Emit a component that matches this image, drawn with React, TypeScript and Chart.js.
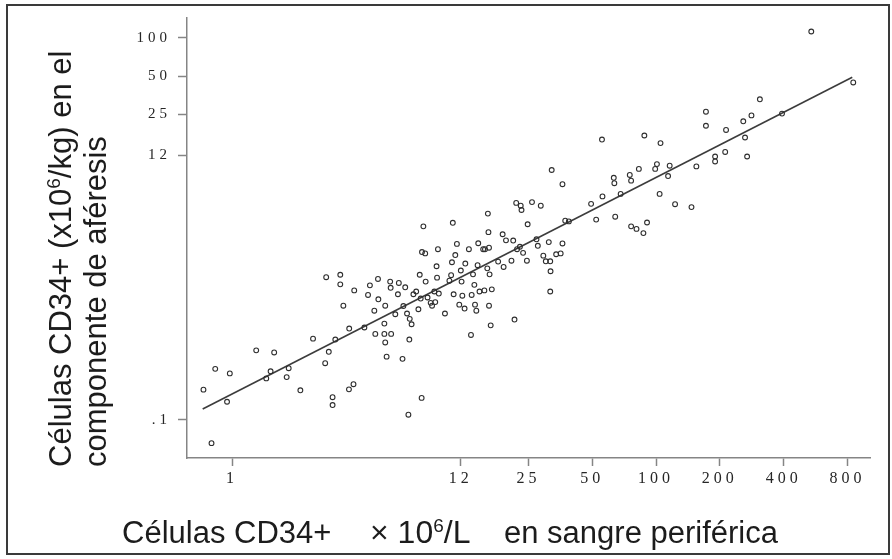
import { useEffect, useRef } from 'react';
import { Chart, registerables } from 'chart.js';

Chart.register(...registerables);

// CD34+ cells in peripheral blood (x10^6/L)
const bloodCD34 = [
  0.733, 0.80, 0.833, 0.947, 0.976, 1.30, 1.45, 1.52, 1.58, 1.81,
  1.85, 2.10, 2.41, 2.75, 2.78, 2.86, 2.98, 2.98, 3.07, 3.24,
  3.24, 3.35, 3.57, 3.56, 3.74, 3.77, 4.21, 4.38, 4.47, 4.69,
  4.74, 4.88, 4.90, 5.23, 5.28, 5.36, 5.23, 5.28, 5.57, 5.60,
  5.63, 5.89, 6.06, 6.12, 6.37, 6.43, 6.56, 6.69, 6.79, 6.86,
  6.89, 7.03, 7.17, 7.39, 7.57, 7.68, 7.76, 7.84, 7.87, 7.99,
  8.15, 8.19, 8.36, 8.65, 8.78, 9.00, 9.09, 9.22, 9.27, 9.36,
  9.45, 10.1, 10.6, 10.8, 10.9, 11.0, 11.1, 11.3, 11.5, 11.8,
  12.0, 12.1, 12.2, 12.5, 12.6, 13.1, 13.4, 13.5, 13.7, 13.9,
  14.0, 14.2, 14.4, 14.5, 14.7, 15.3, 15.5, 15.6, 16.0, 16.1,
  16.2, 16.3, 16.3, 16.4, 16.6, 16.8, 18.0, 18.9, 19.1, 19.6,
  20.8, 21.2, 21.5, 21.9, 22.1, 22.8, 23.0, 23.2, 23.6, 24.6,
  24.8, 26.0, 27.3, 27.7, 28.6, 29.4, 30.2, 31.2, 31.7, 31.7,
  31.8, 32.2, 33.8, 35.5, 36.2, 36.2, 37.3, 38.8, 49.4, 52.2,
  55.6, 55.9, 63.2, 63.6, 64.2, 68.1, 75.2, 76.3, 76.3, 80.9,
  83.0, 87.2, 88.1, 90.7, 99.1, 101, 104, 105, 114, 116,
  123, 147, 155, 172, 172, 190, 190, 212, 214, 258,
  263, 269, 282, 309, 393, 540, 852,
];

// CD34+ cells in the apheresis product (x10^6/kg)
const apheresisCD34 = [
  0.173, 0.0658, 0.252, 0.139, 0.232, 0.352, 0.212, 0.241, 0.339, 0.217,
  0.255, 0.171, 0.435, 0.279, 1.32, 0.343, 0.151, 0.131, 0.428, 1.38,
  1.16, 0.789, 0.522, 0.174, 0.191, 1.04, 0.532, 0.958, 1.14, 0.721,
  0.474, 1.28, 0.886, 0.474, 0.406, 0.314, 0.571, 0.789, 1.22, 1.09,
  0.474, 0.676, 0.970, 1.19, 0.302, 0.784, 1.10, 0.685, 0.110, 0.428,
  0.622, 0.564, 0.970, 1.02, 0.740, 1.38, 0.898, 0.149, 2.08, 3.31,
  2.03, 1.22, 0.915, 0.831, 0.789, 1.02, 0.842, 1.61, 1.31, 2.19,
  0.983, 0.685, 1.24, 1.37, 1.73, 3.53, 0.970, 1.97, 2.41, 0.804,
  1.49, 1.22, 0.945, 0.749, 1.69, 2.19, 0.465, 0.958, 1.39, 1.15,
  0.804, 0.721, 1.64, 2.44, 1.02, 2.19, 1.04, 2.19, 1.55, 4.17,
  2.98, 2.25, 0.789, 1.39, 0.553, 1.06, 1.75, 2.87, 1.59, 2.57,
  1.78, 2.56, 0.614, 5.06, 2.19, 2.29, 4.81, 4.45, 2.05, 1.78,
  3.44, 5.13, 2.62, 2.33, 4.81, 1.95, 1.76, 2.49, 1.76, 1.02,
  1.47, 9.17, 2.00, 2.03, 2.43, 7.09, 3.67, 3.62, 4.97, 3.74,
  15.9, 5.69, 7.96, 7.22, 3.94, 5.95, 8.38, 7.56, 3.31, 3.16,
  9.35, 2.93, 17.1, 3.55, 9.35, 10.2, 5.95, 14.9, 8.22, 9.91,
  4.94, 4.69, 9.78, 26.3, 20.4, 11.7, 10.7, 12.7, 18.9, 22.1,
  16.5, 11.7, 24.6, 32.9, 25.4, 112, 44.6,
];

// Regression line end points
const fitX = [0.727, 843];
const fitY = [0.122, 49];

const xTickValues = [1, 12, 25, 50, 100, 200, 400, 800];
const xTickLabels = ['1', '12', '25', '50', '100', '200', '400', '800'];
const yTickValues = [0.1, 12, 25, 50, 100];
const yTickLabels = ['.1', '12', '25', '50', '100'];

const xRange = [0.613, 1022];
const yRange = [0.0503, 143];

const letterSpacingPlugin = {
  id: 'tickLetterSpacing',
  beforeDraw(chart: any) {
    chart.ctx.letterSpacing = '4px';
  },
  afterDraw(chart: any) {
    chart.ctx.letterSpacing = '0px';
  },
};

const sansFont = '"Liberation Sans", Arial, sans-serif';
const serifFont = '"Liberation Serif", "DejaVu Serif", serif';
const supStyle: any = { fontSize: '19px', verticalAlign: '11px', lineHeight: 0 };

export default function App() {
  const canvasRef = useRef<HTMLCanvasElement | null>(null);

  useEffect(() => {
    const canvas = canvasRef.current;
    if (!canvas) return;
    const points = bloodCD34.map((x, i) => ({ x, y: apheresisCD34[i] }));
    const fitLine = fitX.map((x, i) => ({ x, y: fitY[i] }));
    const axisColor = '#858585';
    const chart = new Chart(canvas, {
      type: 'scatter',
      data: {
        datasets: [
          {
            data: points,
            pointStyle: 'circle',
            pointRadius: 2.4,
            pointBorderWidth: 1.1,
            borderColor: '#2e2e2e',
            backgroundColor: 'rgba(0,0,0,0)',
            pointBackgroundColor: 'rgba(0,0,0,0)',
            pointBorderColor: '#2e2e2e',
          },
          {
            data: fitLine,
            showLine: true,
            pointRadius: 0,
            borderColor: '#3c3c3c',
            borderWidth: 1.6,
          },
        ],
      },
      options: {
        animation: false,
        responsive: false,
        maintainAspectRatio: false,
        events: [],
        layout: { padding: { top: 18, right: 22, left: 0, bottom: 0 } },
        plugins: {
          legend: { display: false },
          tooltip: { enabled: false },
          title: { display: false },
        },
        scales: {
          x: {
            type: 'logarithmic',
            min: xRange[0],
            max: xRange[1],
            bounds: 'data',
            afterBuildTicks: (axis: any) => {
              axis.ticks = xTickValues.map((v) => ({ value: v }));
            },
            afterFit: (scale: any) => {
              scale.height = 101;
            },
            grid: {
              display: true,
              drawOnChartArea: false,
              drawTicks: true,
              tickLength: 8,
              tickWidth: 1.5,
              tickColor: axisColor,
            },
            border: { display: true, color: axisColor, width: 1.5 },
            ticks: {
              autoSkip: false,
              maxRotation: 0,
              minRotation: 0,
              padding: 3,
              color: '#262626',
              font: { family: serifFont, size: 16 },
              callback: (_v: any, i: number) => xTickLabels[i],
            },
          },
          y: {
            type: 'logarithmic',
            min: yRange[0],
            max: yRange[1],
            bounds: 'data',
            afterBuildTicks: (axis: any) => {
              axis.ticks = yTickValues.map((v) => ({ value: v }));
            },
            afterFit: (scale: any) => {
              scale.width = 187;
            },
            grid: {
              display: true,
              drawOnChartArea: false,
              drawTicks: true,
              tickLength: 9,
              tickWidth: 1.5,
              tickColor: axisColor,
            },
            border: { display: true, color: axisColor, width: 1.5 },
            ticks: {
              autoSkip: false,
              padding: 7,
              color: '#262626',
              font: { family: serifFont, size: 15 },
              callback: (_v: any, i: number) => yTickLabels[i],
            },
          },
        },
      },
      plugins: [letterSpacingPlugin],
    } as any);
    return () => chart.destroy();
  }, []);

  return (
    <div
      style={{
        position: 'fixed',
        left: 0,
        top: 0,
        width: 892,
        height: 559,
        background: '#ffffff',
        overflow: 'hidden',
      }}
    >
      <canvas
        ref={canvasRef}
        width={892}
        height={559}
        style={{ position: 'absolute', left: 0, top: 0, width: 892, height: 559, display: 'block' }}
      />
      {/* Y axis title (two rotated lines) */}
      <div
        style={{
          position: 'absolute',
          left: 0,
          top: 0,
          transformOrigin: '0 0',
          transform: 'translate(43px, 467px) rotate(-90deg)',
          whiteSpace: 'nowrap',
          font: `31px ${sansFont}`,
          lineHeight: '35px',
          color: '#1c1c1c',
        }}
      >
        <div>
          Células CD34+ (x10<span style={supStyle}>6</span>/kg) en el
        </div>
        <div>componente de aféresis</div>
      </div>
      {/* X axis title */}
      <div
        style={{
          position: 'absolute',
          left: 122,
          top: 515,
          whiteSpace: 'nowrap',
          font: `31px ${sansFont}`,
          lineHeight: '35px',
          color: '#1c1c1c',
        }}
      >
        Células CD34+
      </div>
      <div
        style={{
          position: 'absolute',
          left: 370,
          top: 515,
          whiteSpace: 'nowrap',
          font: `32px ${sansFont}`,
          lineHeight: '35px',
          color: '#1c1c1c',
        }}
      >
        × 10<span style={supStyle}>6</span>/L
      </div>
      <div
        style={{
          position: 'absolute',
          left: 504,
          top: 515,
          whiteSpace: 'nowrap',
          font: `31px ${sansFont}`,
          lineHeight: '35px',
          color: '#1c1c1c',
        }}
      >
        en sangre periférica
      </div>
      {/* Outer frame */}
      <div
        style={{
          position: 'absolute',
          left: 6,
          top: 4,
          width: 884,
          height: 551,
          boxSizing: 'border-box',
          border: '2px solid #3a3a3a',
          pointerEvents: 'none',
        }}
      />
    </div>
  );
}
